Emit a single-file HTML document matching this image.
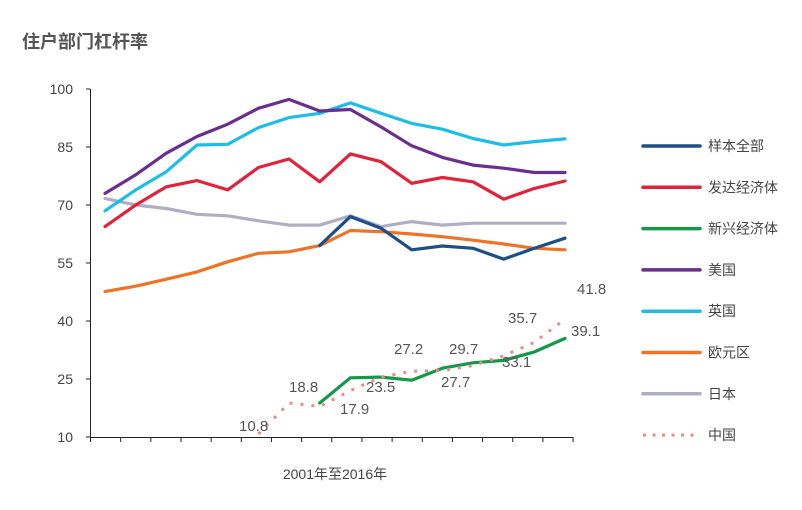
<!DOCTYPE html>
<html><head><meta charset="utf-8"><style>
body{margin:0;background:#fff;width:802px;height:505px;overflow:hidden}
svg{font-family:"Liberation Sans","Noto Sans CJK SC",sans-serif}
</style></head><body>
<svg id="chart" width="802" height="505">
<text x="22" y="48" font-size="18" font-weight="bold" fill="#555">住户部门杠杆率</text>
<g id="axes"></g><g id="lines"></g><g id="labels"></g><g id="legend"></g>
<text x="335" y="479" font-size="14" fill="#444" text-anchor="middle">2001年至2016年</text>
</svg>
<script>
const years=[2001,2002,2003,2004,2005,2006,2007,2008,2009,2010,2011,2012,2013,2014,2015,2016];
const yTicks=[10,25,40,55,70,85,100];
const seriesNames=["样本全部","发达经济体","新兴经济体","美国","英国","欧元区","日本","中国"];
const seriesColors=["#1d4f87","#e2213a","#14994a","#6a2f8e","#1dbde8","#ee7326","#b0aec2","#ec8a8a"];
const allSample=[null,null,null,null,null,null,null,59.5,67.0,64.0,58.4,59.4,58.8,56.0,58.8,61.4];
const advanced=[64.4,70.0,74.7,76.3,73.9,79.7,81.9,76.0,83.2,81.2,75.6,77.1,76.0,71.5,74.3,76.2];
const emerging=[null,null,null,null,null,null,null,18.8,25.3,25.5,24.7,27.8,29.2,29.8,32.0,35.5];
const usa=[73.0,77.8,83.4,87.7,90.9,95.0,97.3,94.3,94.7,90.2,85.3,82.3,80.3,79.5,78.4,78.4];
const uk=[68.5,73.9,78.6,85.5,85.7,90.0,92.6,93.7,96.4,93.7,91.1,89.6,87.2,85.5,86.4,87.1];
const euro=[47.6,49.0,50.8,52.7,55.3,57.5,57.9,59.5,63.4,63.1,62.5,61.8,60.9,59.9,58.8,58.4];
const japan=[71.7,70.0,69.1,67.6,67.2,65.9,64.8,64.8,67.2,64.4,65.7,64.8,65.3,65.3,65.3,65.3];
const china=[null,null,null,null,null,10.8,18.8,17.9,22.0,25.5,27.0,27.2,28.5,31.0,34.5,40.5];
const labelTexts=["10.8","18.8","17.9","23.5","27.2","27.7","29.7","33.1","35.7","39.1","41.8"];
const labelPos=[[239,431],[289,392],[340,414],[366,392],[394,354],[441,387],[449,354],[502,367],[508,323],[571,336],[577,294]];
const NS="http://www.w3.org/2000/svg";
const x=i=>105+i*30.67, y=v=>437-(v-10)*3.867;
function mk(t,a,p){const e=document.createElementNS(NS,t);for(const k in a)e.setAttribute(k,a[k]);p.appendChild(e);return e;}
const ax=document.getElementById('axes');
let l=mk('line',{x1:90.5,y1:89,x2:90.5,y2:437,stroke:'#222','stroke-width':1},ax);


l=mk('line',{x1:90,y1:437.5,x2:573,y2:437.5,stroke:'#222','stroke-width':1},ax);


yTicks.forEach(v=>{
 mk('line',{x1:86,x2:90,y1:y(v),y2:y(v),stroke:'#222'},ax);
 const t=mk('text',{x:73,y:y(v)+5,'font-size':14,fill:'#444','text-anchor':'end'},ax);t.textContent=v;
 
 
});
for(let i=0;i<=16;i++){mk('line',{x1:90.5+i*30.16,x2:90.5+i*30.16,y1:437,y2:442,stroke:'#222'},ax);}
const data=[allSample,advanced,emerging,usa,uk,euro,japan,china];
const order=[6,5,4,3,1,0,2,7];
const lg=document.getElementById('lines');
order.forEach(s=>{
 let d='';data[s].forEach((v,i)=>{if(v==null)return;d+=(d?'L':'M')+x(i).toFixed(1)+' '+y(v).toFixed(1);});
 const p=mk('path',{d:d,fill:'none',stroke:seriesColors[s],'stroke-width':s==7?3:3.2,'stroke-linejoin':'round','stroke-linecap':s==7?'butt':'round'},lg);
 if(s==7)p.setAttribute('stroke-dasharray','3 8');
 
 
});
const lb=document.getElementById('labels');
labelTexts.forEach((t,i)=>{const e=mk('text',{x:labelPos[i][0],y:labelPos[i][1],'font-size':15,fill:'#555'},lb);e.textContent=t;
 
 });
const le=document.getElementById('legend');
seriesNames.forEach((n,i)=>{
 const yy=146+i*41.3;
 const g=mk('g',{},le);
 
 
 const ln=mk('line',{x1:643,x2:700,y1:yy,y2:yy,stroke:seriesColors[i],'stroke-width':i==7?3:3.5,'stroke-linecap':i==7?'butt':'round'},g);
 if(i==7)ln.setAttribute('stroke-dasharray','3 6.5');
 const t=mk('text',{x:708,y:yy+5,'font-size':14,fill:'#444'},g);t.textContent=n;
});
</script>
</body></html>
